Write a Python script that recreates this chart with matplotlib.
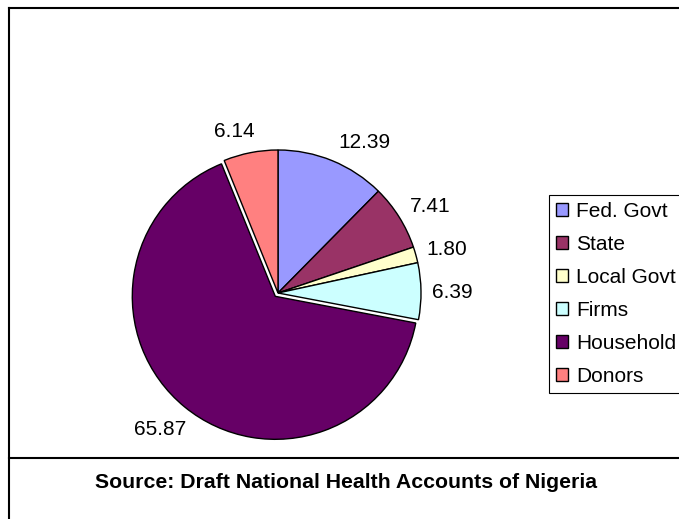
import numpy as np
import matplotlib
matplotlib.use("Agg")
import matplotlib.pyplot as plt
from matplotlib.lines import Line2D

# health expenditure shares by source (%)
sources = ["Fed. Govt", "State", "Local Govt", "Firms", "Household", "Donors"]
shares = [12.39, 7.41, 1.80, 6.39, 65.87, 6.14]
slice_colors = ["#9999FF", "#993366", "#FFFFCC", "#CCFFFF", "#660066", "#FF8080"]
source_note = "Source: Draft National Health Accounts of Nigeria"

# label placement tweaks (radius in pie radii, turn in degrees)
label_radius = [1.21, 1.225, 1.22, 1.217, 1.26, 1.17]
label_turn = [-7.5, -2.3, -0.9, -0.7, -1.6, 4]
explode = [0, 0, 0, 0, 0.03, 0]

plt.rcParams['font.family'] = ['Liberation Sans', 'DejaVu Sans']

W, H = 679, 519
fig = plt.figure(figsize=(W / 100, H / 100), dpi=100)

# pie axes: center and radius in pixels
cx, cy, R = 278, 293, 143
span = 1.5
side = 2 * span * R
ax = fig.add_axes([(cx - span * R) / W, (H - cy - span * R) / H, side / W, side / H])

wedges, _ = ax.pie(shares, colors=slice_colors, startangle=90, counterclock=False,
                   explode=explode,
                   wedgeprops=dict(edgecolor="black", linewidth=1.0))
ax.set_xlim(-span, span)
ax.set_ylim(-span, span)
ax.set_aspect("equal")

for w, val, rr, turn in zip(wedges, shares, label_radius, label_turn):
    mid = np.deg2rad((w.theta1 + w.theta2) / 2 + turn)
    ax.text(rr * np.cos(mid), rr * np.sin(mid), f"{val:.2f}",
            ha="center", va="center", fontsize=15)

leg = ax.legend(wedges, sources, loc="upper left",
                bbox_to_anchor=(549 / W, 1 - 195 / H), bbox_transform=fig.transFigure,
                fontsize=15, handlelength=0.58, handleheight=0.58,
                handletextpad=0.38, labelspacing=0.67, borderpad=0.35,
                borderaxespad=0, fancybox=False, framealpha=1)
leg.get_frame().set_edgecolor("black")
leg.get_frame().set_linewidth(0.8)

# outer frame and the source box underneath
def px_line(xs, ys):
    fig.add_artist(Line2D([x / W for x in xs], [1 - y / H for y in ys],
                          transform=fig.transFigure, color="black", lw=1.5))

px_line([9, W + 5], [8, 8])
px_line([9, 9], [8, H + 5])
px_line([9, W + 5], [458, 458])

fig.text(346 / W, 1 - 482 / H, source_note, ha="center", va="center",
         fontsize=15.3, fontweight="bold")

fig.savefig("out.png", dpi=100)
